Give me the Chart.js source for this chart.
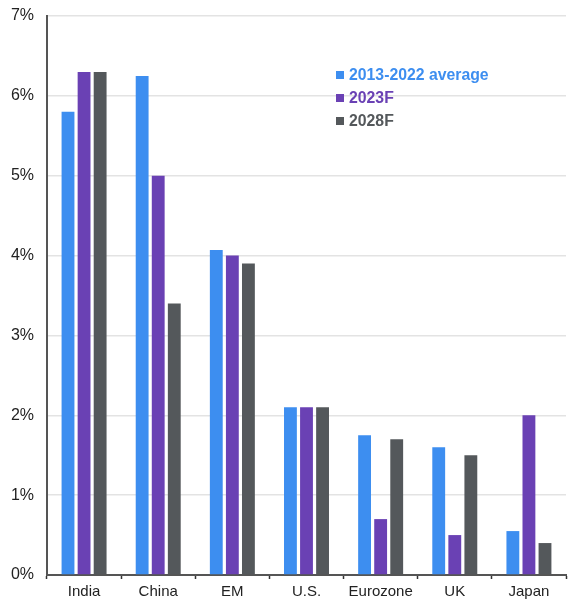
<!DOCTYPE html>
<html><head><meta charset="utf-8">
<script src="https://cdn.jsdelivr.net/npm/chart.js@4"></script>
<style>
html,body{margin:0;padding:0;background:#fff;}
#wrap{position:relative;width:568px;height:601px;}
#legend{position:absolute;left:336px;top:63px;font-family:"Liberation Sans",Arial,sans-serif;font-size:15.8px;font-weight:bold;line-height:23px;}
#legend div{white-space:nowrap;}
#legend span.sw{display:inline-block;width:8px;height:8px;margin-right:5px;vertical-align:1px;}
</style></head>
<body><div id="wrap"><canvas id="c" width="568" height="601"></canvas><div id="legend"></div></div>
<script>
const categories = ["India","China","EM","U.S.","Eurozone","UK","Japan"];
const avg2013_2022 = [5.8, 6.25, 4.07, 2.1, 1.75, 1.6, 0.55];
const f2023 = [6.3, 5.0, 4.0, 2.1, 0.7, 0.5, 2.0];
const f2028 = [6.3, 3.4, 3.9, 2.1, 1.7, 1.5, 0.4];
const seriesNames = ["2013-2022 average","2023F","2028F"];
const colors = ["#3d8ef0","#6a41b4","#54585b"];
const yTicks = [0,1,2,3,4,5,6,7];

const datasets = [avg2013_2022, f2023, f2028].map((d,i)=>({
  label: seriesNames[i], data: d, backgroundColor: colors[i],
  categoryPercentage: 0.65, barPercentage: 0.8
}));

const lg = document.getElementById('legend');
seriesNames.forEach((n,i)=>{
  const d = document.createElement('div');
  d.style.color = colors[i];
  d.innerHTML = '<span class="sw" style="background:'+colors[i]+'"></span>'+n;
  lg.appendChild(d);
});

new Chart(document.getElementById('c'), {
  type: 'bar',
  data: { labels: categories, datasets },
  options: {
    responsive: false, animation: false,
    layout: { padding: { top: 16, right: 2, left: 0, bottom: 0 } },
    plugins: { legend: { display: false }, tooltip: { enabled: false } },
    scales: {
      x: {
        grid: { offset: true, drawOnChartArea: false, color: '#333', tickLength: 4, tickWidth: 1.5 },
        border: { color: '#555', width: 2 },
        ticks: { color: '#222', font: { family: '"Liberation Sans", Arial, sans-serif', size: 15 }, padding: 4 },
        afterFit: s => { s.height = 26; }
      },
      y: {
        min: 0, max: 7,
        afterBuildTicks: s => { s.ticks = yTicks.map(v=>({value:v})); },
        grid: { color: '#e3e3e3', lineWidth: 1.5, drawTicks: false },
        border: { color: '#555', width: 2 },
        ticks: { color: '#222', font: { family: '"Liberation Sans", Arial, sans-serif', size: 16 }, padding: 13,
          callback: v => v + '%' },
        afterFit: s => { s.width = 47; s.paddingTop = 0; }
      }
    }
  }
});
</script></body></html>
